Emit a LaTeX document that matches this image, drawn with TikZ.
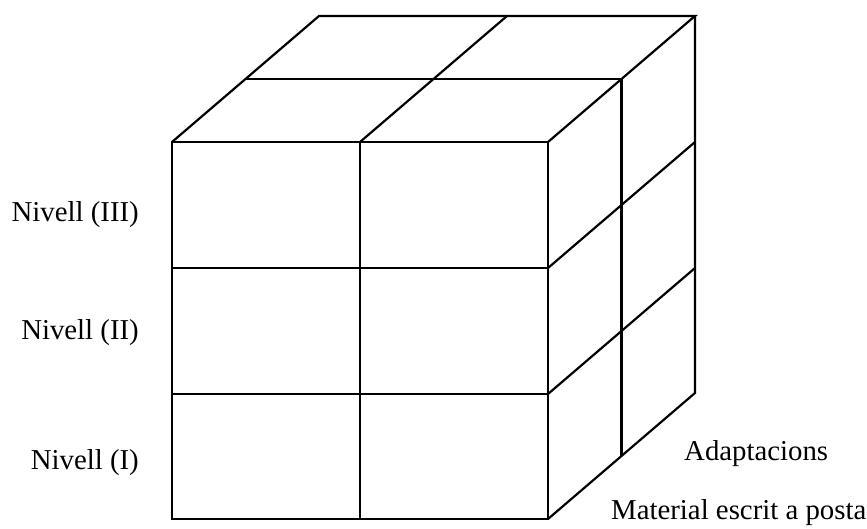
\documentclass[tikz,border=0pt]{standalone}
\usepackage{fontspec}
\setmainfont{Liberation Serif}
\begin{document}
\begin{tikzpicture}[x=1pt,y=-1pt,
  edge/.style={line width=2.2pt,line join=miter,line cap=butt},
  lbl/.style={font=\fontsize{28.8}{31}\selectfont,inner sep=0pt}]
\useasboundingbox (0,0) rectangle (867,529);
% front face
\draw[edge] (172,142) rectangle (548,519);
\draw[edge] (360,142) -- (360,519);
\draw[edge] (172,268) -- (548,268);
\draw[edge] (172,394) -- (548,394);
% top face
\draw[edge] (172,142) -- (319,16) -- (695,16) -- (548,142);
\draw[edge] (245.5,79) -- (621.5,79);
\draw[edge] (360,142) -- (507,16);
% right face
\draw[edge] (695,16) -- (695,393) -- (548,519);
\draw[edge] (621.5,79) -- (621.5,456);
\draw[edge] (548,268) -- (695,142);
\draw[edge] (548,394) -- (695,268);
% labels
\node[lbl,anchor=east] (n3) at (139,215) {Nivell (III)};
\node[lbl,anchor=east] (n2) at (139,333) {Nivell (II)};
\node[lbl,anchor=east] (n1) at (139,463) {Nivell (I)};
\node[lbl,anchor=west] (ad) at (684,454) {Adaptacions};
\node[lbl,anchor=west] (me) at (611,513) {Material escrit a posta};
\end{tikzpicture}
\end{document}
